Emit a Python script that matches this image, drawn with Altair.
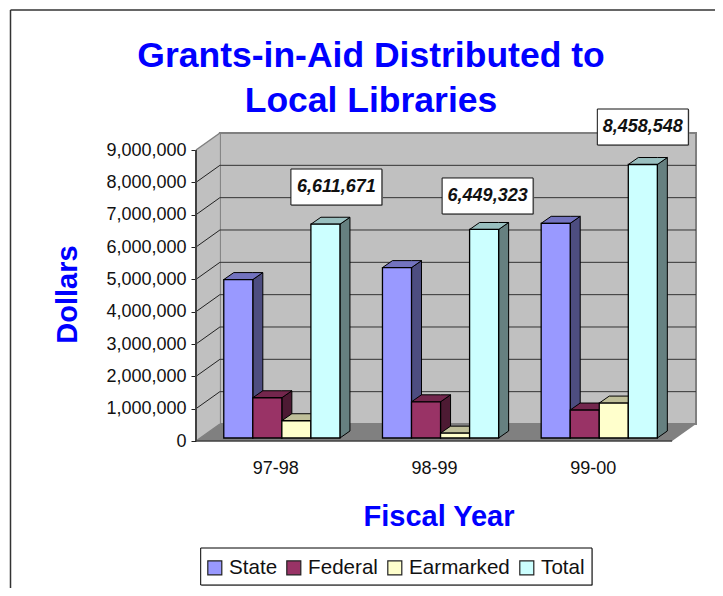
import altair as alt
import pandas as pd

years = ["97-98", "98-99", "99-00"]
series = ["State", "Federal", "Earmarked", "Total"]
state = [4900000, 5270000, 6640000]
federal = [1245000, 1120000, 865000]
earmarked = [534000, 150000, 1080000]
total = [6611671, 6449323, 8458548]
y_ticks = [0, 1000000, 2000000, 3000000, 4000000, 5000000, 6000000, 7000000, 8000000, 9000000]
title_lines = ["Grants-in-Aid Distributed to", "Local Libraries"]

# styling
FRONT = ["#9999FF", "#993366", "#FFFFCC", "#CCFFFF"]
TOP = ["#7373BF", "#73264D", "#BFBF99", "#99BFBF"]
SIDE = ["#4D4D80", "#4D1A33", "#808066", "#668080"]
FONT = "Liberation Sans"
BLUE = "#0000FF"

# pseudo-3D projection, in scale units
W, H = 500, 308
XMAX = 3.1506
YMAX = 9526000
DX, DY = 0.1506, 526000          # depth of the floor / side wall
BDX, BDY = 0.063, 216000         # depth of a bar
BASE = 93000                     # bars stand slightly back from the front edge
BAR_W = 0.183
START = 0.175
X = alt.Scale(domain=[0, XMAX], nice=False, zero=False)
Y = alt.Scale(domain=[0, YMAX], nice=False, zero=False)

values = [state, federal, earmarked, total]
fronts, sides, tops = [], [], []
for i, yr in enumerate(years):
    for s, name in enumerate(series):
        v = values[s][i] + BASE
        x0 = i + START + s * BAR_W
        x1 = x0 + BAR_W
        key = f"{yr}-{name}"
        fronts.append(dict(series=name, x=x0, x2=x1, y=BASE, y2=v))
        sides += [
            dict(k=key, fill=SIDE[s], x=x1, y=BASE, y2=v),
            dict(k=key, fill=SIDE[s], x=x1 + BDX, y=BASE + BDY, y2=v + BDY),
        ]
        tops += [
            dict(k=key, fill=TOP[s], x=x0, y=v, y2=v),
            dict(k=key, fill=TOP[s], x=x0 + BDX, y=v, y2=v + BDY),
            dict(k=key, fill=TOP[s], x=x1, y=v, y2=v + BDY),
            dict(k=key, fill=TOP[s], x=x1 + BDX, y=v + BDY, y2=v + BDY),
        ]

ex = alt.X("x:Q", scale=X, axis=None)
ey = alt.Y("y:Q", scale=Y, axis=None)
label_expr = "{'0.5':'%s','1.5':'%s','2.5':'%s'}[toString(datum.value)]" % tuple(years)

# back wall (carries the axes)
wall = alt.Chart(pd.DataFrame([dict(x=DX, x2=XMAX, y=DY, y2=9000000 + DY)])).mark_rect(
    fill="#C0C0C0", stroke="#808080", strokeWidth=2
).encode(
    x=alt.X("x:Q", scale=X, axis=alt.Axis(
        values=[0.5, 1.5, 2.5], labelExpr=label_expr, domain=False, ticks=False, grid=False,
        labelFont=FONT, labelFontSize=18, labelColor="#111", labelPadding=18,
        title="Fiscal Year", titleFont=FONT, titleFontSize=29, titleFontWeight="bold",
        titleColor=BLUE, titleX=242.5, titleY=61)),
    x2="x2:Q",
    y=alt.Y("y:Q", scale=Y, axis=alt.Axis(
        values=y_ticks, labelExpr="format(datum.value, ',')", domain=False, tickSize=5,
        tickColor="#222", grid=False,
        labelFont=FONT, labelFontSize=18, labelColor="#111", labelPadding=5,
        title="Dollars", titleFont=FONT, titleFontSize=29, titleFontWeight="bold",
        titleColor=BLUE, titleX=-114, titleY=161)),
    y2="y2:Q",
)

side_wall = alt.Chart(pd.DataFrame([
    dict(x=0, y=0, y2=9000000), dict(x=DX, y=DY, y2=9000000 + DY)
])).mark_area(fill="#C0C0C0").encode(x=ex, y=ey, y2="y2:Q")

floor = alt.Chart(pd.DataFrame([
    dict(x=0, y=0, y2=0), dict(x=DX, y=0, y2=DY),
    dict(x=XMAX - DX, y=0, y2=DY), dict(x=XMAX, y=DY, y2=DY)
])).mark_area(fill="#808080").encode(x=ex, y=ey, y2="y2:Q")

grid_rows = [dict(y=t + DY, x=DX, x2=XMAX) for t in y_ticks[1:-1]]
grid = alt.Chart(pd.DataFrame(grid_rows)).mark_rule(color="#333", strokeWidth=1).encode(
    x=ex, x2="x2:Q", y=ey)

diag_rows = []
for t in y_ticks[1:-1]:
    diag_rows += [dict(t=t, x=0, y=t), dict(t=t, x=DX, y=t + DY)]
diag = alt.Chart(pd.DataFrame(diag_rows)).mark_line(strokeWidth=1, color="#222").encode(
    x=ex, y=ey, detail="t:N")

gray_diag_rows = []
for t in (0, 9000000):
    gray_diag_rows += [dict(t=t, x=0, y=t), dict(t=t, x=DX, y=t + DY)]
gray_diag = alt.Chart(pd.DataFrame(gray_diag_rows)).mark_line(
    color="#808080", strokeWidth=1.5).encode(x=ex, y=ey, detail="t:N")

axis_y = alt.Chart(pd.DataFrame([dict(x=0, y=0, y2=9000000)])).mark_rule(
    color="#404040", strokeWidth=2).encode(x=ex, y=ey, y2="y2:Q")
axis_x = alt.Chart(pd.DataFrame([dict(x=0, x2=XMAX - DX, y=0)])).mark_rule(
    color="#404040", strokeWidth=1.5).encode(x=ex, x2="x2:Q", y=ey)

side_faces = alt.Chart(pd.DataFrame(sides)).mark_area(stroke="black", strokeWidth=1).encode(
    x=ex, y=ey, y2="y2:Q", detail="k:N",
    fill=alt.Fill("fill:N", scale=None, legend=None))
top_faces = alt.Chart(pd.DataFrame(tops)).mark_area(stroke="black", strokeWidth=1).encode(
    x=ex, y=ey, y2="y2:Q", detail="k:N",
    fill=alt.Fill("fill:N", scale=None, legend=None))

front_faces = alt.Chart(pd.DataFrame(fronts)).mark_rect(stroke="black", strokeWidth=1.3, opacity=1).encode(
    x=ex, x2="x2:Q", y=ey, y2="y2:Q",
    color=alt.Color("series:N", scale=alt.Scale(domain=series, range=FRONT), legend=alt.Legend(
        orient="none", legendX=1.5, legendY=417.5, direction="horizontal", columns=4, title=None,
        symbolType="square", symbolSize=196, symbolStrokeColor="#222", symbolStrokeWidth=1.2,
        symbolOpacity=1, labelFont=FONT, labelFontSize=20.6, labelColor="#111", labelOffset=4,
        columnPadding=6, padding=7, labelLimit=200)),
)

# value call-outs: (dx, dy) in pixels from the top of each Total bar
NUDGE = [(11, -37.2), (3.5, -33.5), (0, -37.5)]
callouts = []
for i, (ndx, ndy) in enumerate(NUDGE):
    d = pd.DataFrame([dict(x=i + START + 3.5 * BAR_W, y=total[i] + BASE, v=total[i])])
    base = alt.Chart(d).encode(x=ex, y=ey)
    callouts += [
        base.mark_rect(width=91, height=36, xOffset=ndx + 1, yOffset=ndy + 1, fill="#999"),
        base.mark_rect(width=91, height=36, xOffset=ndx, yOffset=ndy, fill="white", stroke="#111", strokeWidth=1),
        base.mark_text(dx=ndx, dy=ndy, font=FONT, fontSize=18, fontWeight="bold", fontStyle="italic",
                       color="#111", align="center", baseline="middle").encode(
            text=alt.Text("v:Q", format=",")),
    ]

# chart title lines
titles = []
for line, ypix in zip(title_lines, (-77, -32)):
    titles.append(alt.Chart(pd.DataFrame([dict(t=line)])).mark_text(
        font=FONT, fontSize=35.5, fontWeight="bold", color=BLUE, align="center", baseline="middle"
    ).encode(x=alt.value(175), y=alt.value(ypix), text="t:N"))

# outer chart frame and legend box
one = pd.DataFrame([dict(a=1)])
frame_left = alt.Chart(one).mark_rule(color="#333", strokeWidth=1.5).encode(
    x=alt.value(-185.5), y=alt.value(-123), y2=alt.value(460))
frame_top = alt.Chart(one).mark_rule(color="#333", strokeWidth=1.5).encode(
    x=alt.value(-185.5), x2=alt.value(540), y=alt.value(-123))
legend_shadow = alt.Chart(one).mark_rect(fill="#BBBBBB").encode(
    x=alt.value(5.7), x2=alt.value(397), y=alt.value(416), y2=alt.value(453))
legend_box = alt.Chart(one).mark_rect(fill="white", stroke="black", strokeWidth=1).encode(
    x=alt.value(4.7), x2=alt.value(396), y=alt.value(415), y2=alt.value(452))

chart = alt.layer(
    wall, side_wall, floor, grid, diag, gray_diag, axis_y, axis_x,
    side_faces, top_faces, front_faces, *callouts, *titles, frame_left, frame_top,
    legend_shadow, legend_box,
).resolve_axis(x="independent", y="independent").properties(
    width=W, height=H,
    padding={"left": 188, "top": 125, "right": 19, "bottom": 147},
    autosize=alt.AutoSizeParams(type="none"),
    background="white",
).configure_view(stroke=None)

chart.save("out.html", embed_options={"renderer": "svg", "actions": False})
